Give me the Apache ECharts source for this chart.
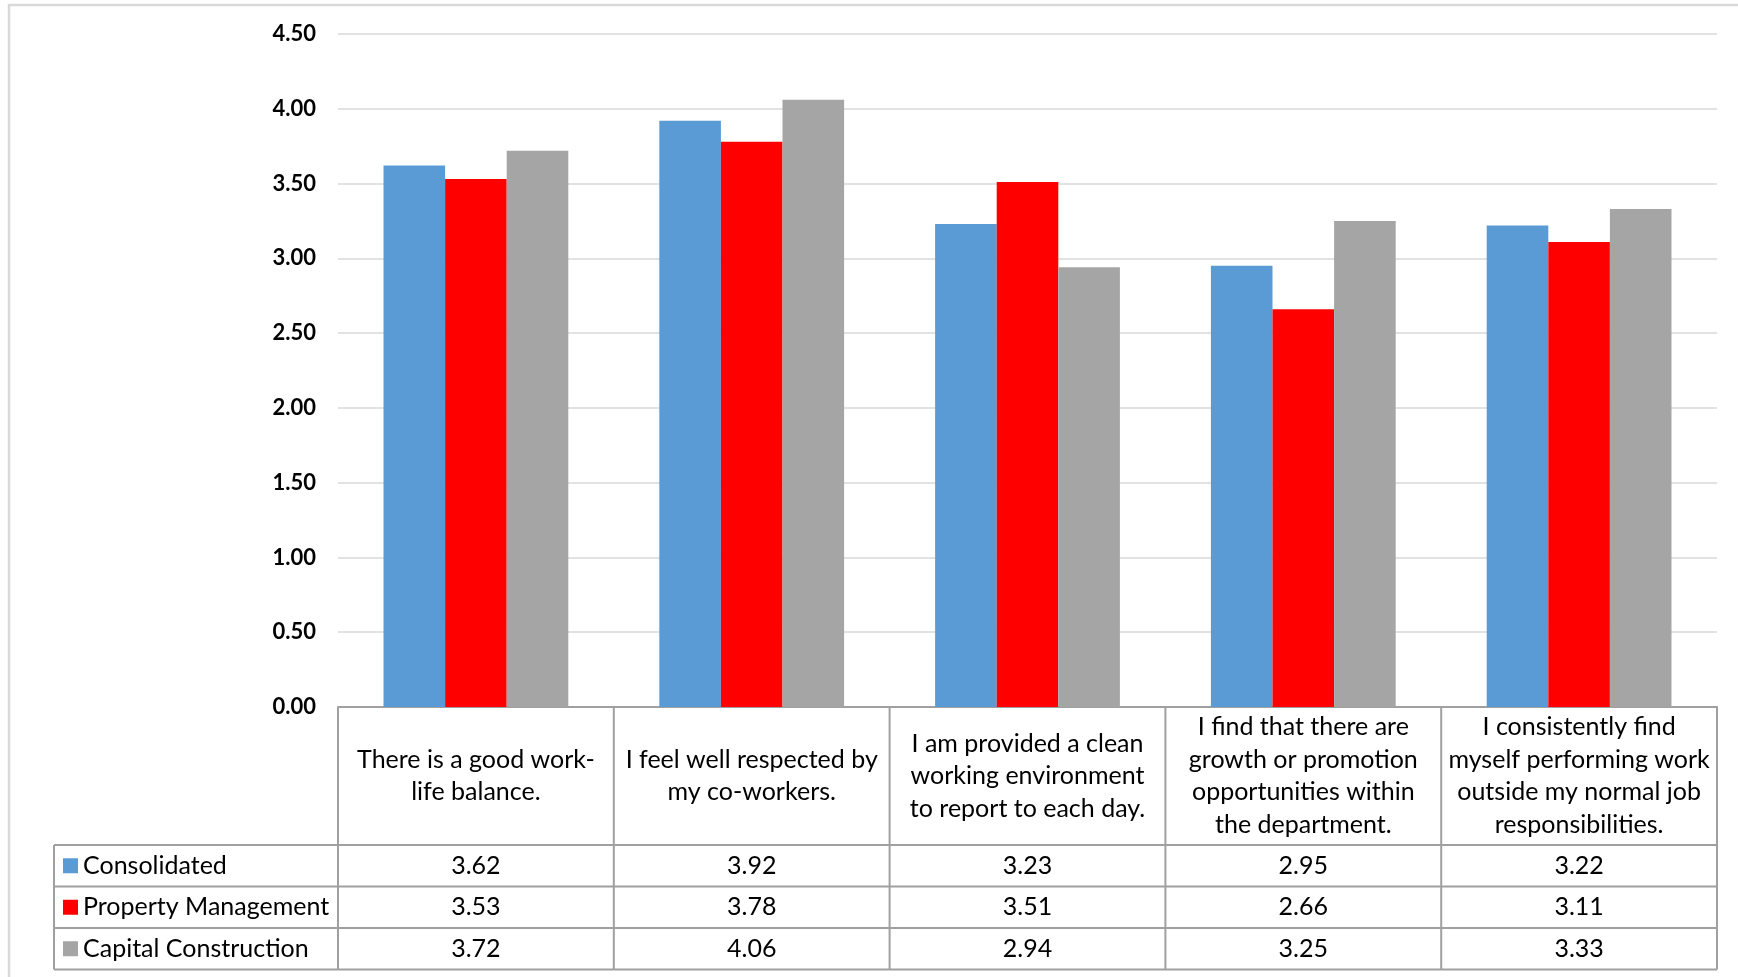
<!DOCTYPE html>
<html>
<head>
<meta charset="utf-8">
<script src="https://cdn.jsdelivr.net/npm/echarts@6/dist/echarts.min.js"></script>
<style>
html,body{margin:0;padding:0;background:#fff;}
#chart{width:1738px;height:977px;}
</style>
</head>
<body>
<div id="chart"></div>
<script>
const categories = [
  "There is a good work-\nlife balance.",
  "I feel well respected by\nmy co-workers.",
  "I am provided a clean\nworking environment\nto report to each day.",
  "I find that there are\ngrowth or promotion\nopportunities within\nthe department.",
  "I consistently find\nmyself performing work\noutside my normal job\nresponsibilities."
];
const seriesNames = ["Consolidated", "Property Management", "Capital Construction"];
const consolidated = [3.62, 3.92, 3.23, 2.95, 3.22];
const propertyManagement = [3.53, 3.78, 3.51, 2.66, 3.11];
const capitalConstruction = [3.72, 4.06, 2.94, 3.25, 3.33];
const yMin = 0, yMax = 4.5, yStep = 0.5;

const colors = ["#5B9BD5", "#FF0000", "#A5A5A5"];
const seriesValues = [consolidated, propertyManagement, capitalConstruction];

// layout
const W = 1738, H = 977;
const gridLeft = 338, gridRight = 21, gridTop = 34, axisY = 707;
const gridBottom = H - axisY;
const headerH = 138, rowH = 41.5;
const legendLeft = 54;
const FONT = "Lato";
const fs = 25;
const lineCol = "#A0A0A0";

const chart = echarts.init(document.getElementById('chart'));

const plotRight = W - gridRight;
const colW = (plotRight - gridLeft) / categories.length;
const tableTop = axisY, headerBottom = axisY + headerH;
const tableBottom = headerBottom + rowH * seriesNames.length;

const graphics = [];
// outer border
graphics.push({type:'rect', shape:{x:9, y:5, width:W, height:H}, style:{fill:null, stroke:'#D9D9D9', lineWidth:2.5}, silent:true, z:0});
// horizontal table lines
for (let r = 0; r <= seriesNames.length; r++) {
  const y = headerBottom + r * rowH;
  graphics.push({type:'line', shape:{x1:legendLeft, y1:y, x2:plotRight, y2:y}, style:{stroke:lineCol, lineWidth:2}, silent:true, z:10});
}
// vertical lines
for (let c = 0; c <= categories.length; c++) {
  const x = gridLeft + c * colW;
  graphics.push({type:'line', shape:{x1:x, y1:tableTop, x2:x, y2:tableBottom}, style:{stroke:lineCol, lineWidth:2}, silent:true, z:10});
}
graphics.push({type:'line', shape:{x1:legendLeft, y1:headerBottom, x2:legendLeft, y2:tableBottom}, style:{stroke:lineCol, lineWidth:2}, silent:true, z:10});

const xAxes = [{
  type:'category', data:categories, position:'bottom', gridIndex:0,
  axisLine:{show:true, lineStyle:{color:lineCol, width:2}},
  axisTick:{show:false},
  axisLabel:{interval:0, color:'#000', fontFamily:FONT, fontSize:fs, lineHeight:32.5, margin:headerH/2, verticalAlign:'middle', align:'center'}
}];
seriesValues.forEach((vals, k) => {
  xAxes.push({
    type:'category', data:categories, position:'bottom', gridIndex:0,
    offset: headerH + rowH * k + rowH / 2,
    axisLine:{show:false}, axisTick:{show:false}, splitLine:{show:false},
    axisLabel:{interval:0, margin:0, color:'#000', fontFamily:FONT, fontSize:fs, verticalAlign:'middle',
      formatter:(v, i) => vals[i].toFixed(2)}
  });
});

chart.setOption({
  animation:false,
  backgroundColor:'#fff',
  color:colors,
  textStyle:{fontFamily:FONT},
  grid:{left:gridLeft, right:gridRight, top:gridTop, bottom:gridBottom, containLabel:false},
  legend:{
    orient:'vertical', left:legendLeft + 9, top:headerBottom, padding:0, itemGap:0,
    itemWidth:15, itemHeight:15, icon:'rect', selectedMode:false,
    textStyle:{fontFamily:FONT, fontSize:fs, color:'#000', lineHeight:rowH},
    data:seriesNames
  },
  xAxis:xAxes,
  yAxis:{
    type:'value', min:yMin, max:yMax, interval:yStep,
    axisLine:{show:false}, axisTick:{show:false},
    splitLine:{lineStyle:{color:'#D9D9D9', width:1.5}},
    axisLabel:{margin:22, color:'#000', fontFamily:FONT, fontWeight:'bold', fontSize:22, formatter:v => v.toFixed(2)}
  },
  series: seriesNames.map((name, k) => ({
    name, type:'bar', xAxisIndex:0, data:seriesValues[k],
    barGap:'0%', barCategoryGap:'33%', itemStyle:{color:colors[k]}
  })),
  graphic:graphics
});
</script>
</body>
</html>
